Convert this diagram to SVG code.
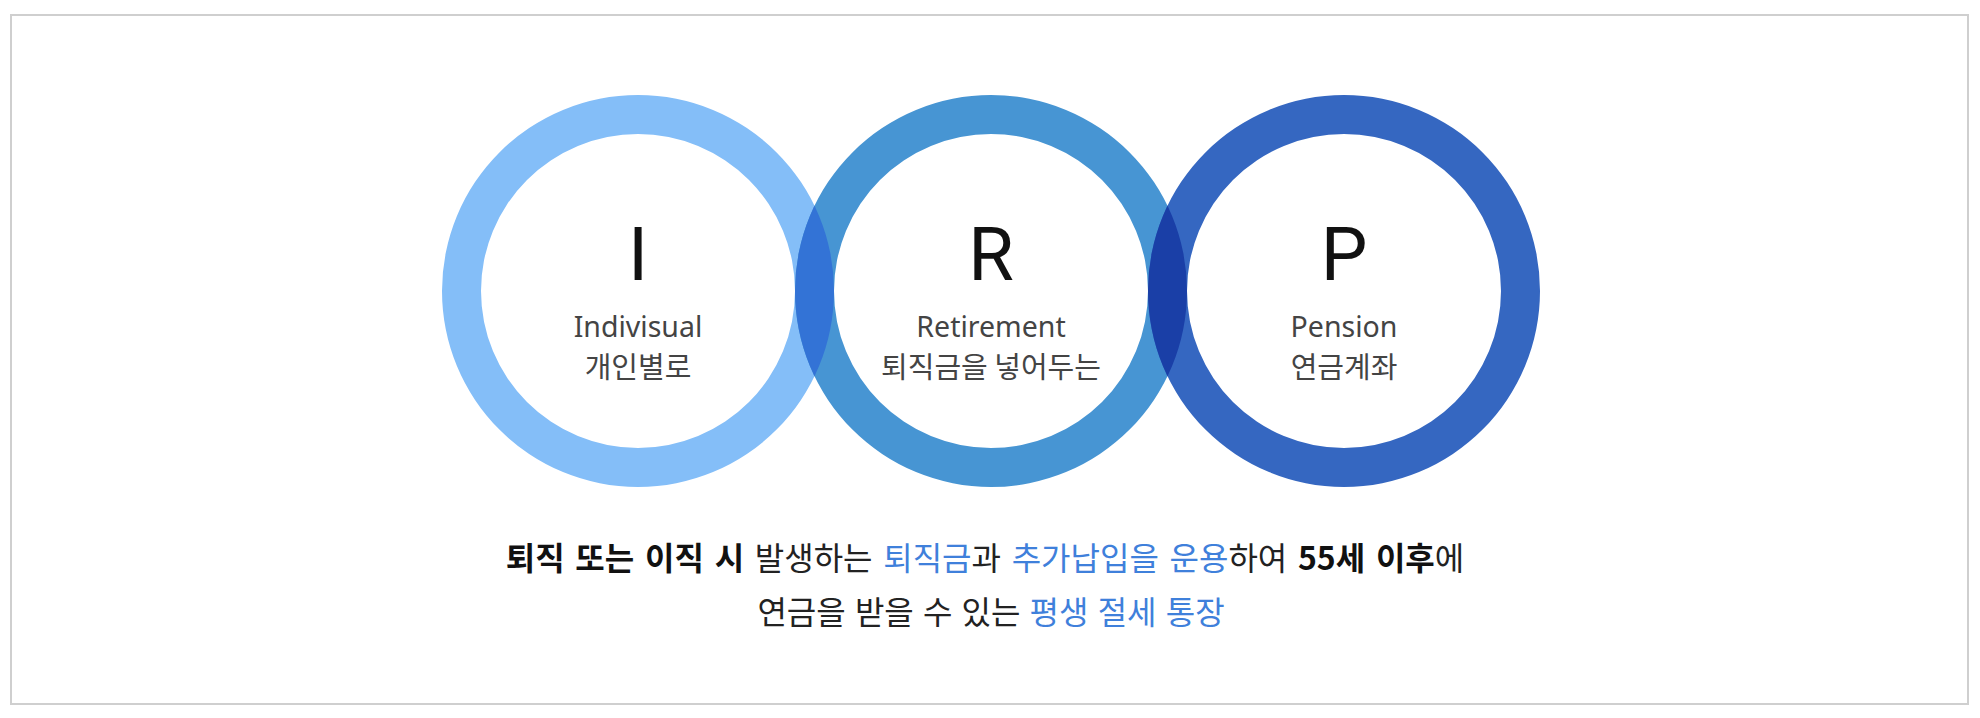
<svg xmlns="http://www.w3.org/2000/svg" width="1980" height="718" viewBox="0 0 1980 718">
<style>
.big{font-family:Roboto,"Liberation Sans",sans-serif;font-size:74px;fill:#111;text-anchor:middle}
.lbl{font-family:"Noto Sans","Noto Sans CJK KR",sans-serif;font-size:28.5px;fill:#444;text-anchor:middle}
.lk{font-family:"Noto Sans CJK KR","Noto Sans",sans-serif;font-size:29px;fill:#444;text-anchor:middle}
.desc{font-family:"Noto Sans CJK KR","Noto Sans",sans-serif;font-size:32px;fill:#222;text-anchor:middle}
.w1{word-spacing:3.5px}
.w2{word-spacing:2px}
.b{font-weight:700;fill:#111}
.blue{fill:#3F80DB}
</style>
<defs>
<path id="r1" fill-rule="evenodd" d="M442,291 a196,196 0 1,0 392,0 a196,196 0 1,0 -392,0 Z M481,291 a157,157 0 1,0 314,0 a157,157 0 1,0 -314,0 Z"/>
<path id="r2" fill-rule="evenodd" d="M795,291 a196,196 0 1,0 392,0 a196,196 0 1,0 -392,0 Z M834,291 a157,157 0 1,0 314,0 a157,157 0 1,0 -314,0 Z"/>
<path id="r3" fill-rule="evenodd" d="M1148,291 a196,196 0 1,0 392,0 a196,196 0 1,0 -392,0 Z M1187,291 a157,157 0 1,0 314,0 a157,157 0 1,0 -314,0 Z"/>
<clipPath id="c1"><path clip-rule="evenodd" d="M442,291 a196,196 0 1,0 392,0 a196,196 0 1,0 -392,0 Z M481,291 a157,157 0 1,0 314,0 a157,157 0 1,0 -314,0 Z"/></clipPath>
<clipPath id="c3"><path clip-rule="evenodd" d="M1148,291 a196,196 0 1,0 392,0 a196,196 0 1,0 -392,0 Z M1187,291 a157,157 0 1,0 314,0 a157,157 0 1,0 -314,0 Z"/></clipPath>
</defs>
<rect x="11" y="15" width="1957" height="689" fill="#fff" stroke="#cfcfcf" stroke-width="2"/>
<g id="node-I">
<use href="#r1" fill="#84BEF8"/>
<text class="big" x="638" y="280">I</text>
<text class="lbl" x="638" y="337">Indivisual</text>
<text class="lk" x="638" y="378">개인별로</text>
</g>
<g id="node-R">
<use href="#r2" fill="#4795D3"/>
<text class="big" x="991" y="280">R</text>
<text class="lbl" x="991" y="337">Retirement</text>
<text class="lk" x="991" y="378">퇴직금을 넣어두는</text>
</g>
<g id="node-P">
<use href="#r3" fill="#3567C1"/>
<text class="big" x="1344" y="280">P</text>
<text class="lbl" x="1344" y="337">Pension</text>
<text class="lk" x="1344" y="378">연금계좌</text>
</g>
<g id="overlaps">
<use href="#r2" fill="#3373D6" clip-path="url(#c1)"/>
<use href="#r2" fill="#1A3FA7" clip-path="url(#c3)"/>
</g>
<g id="caption">
<text class="desc w1" x="985" y="570"><tspan class="b">퇴직 또는 이직 시</tspan> 발생하는 <tspan class="blue">퇴직금</tspan>과 <tspan class="blue">추가납입을 운용</tspan>하여 <tspan class="b">55세 이후</tspan>에</text>
<text class="desc w2" x="991" y="624">연금을 받을 수 있는 <tspan class="blue">평생 절세 통장</tspan></text>
</g>
</svg>
